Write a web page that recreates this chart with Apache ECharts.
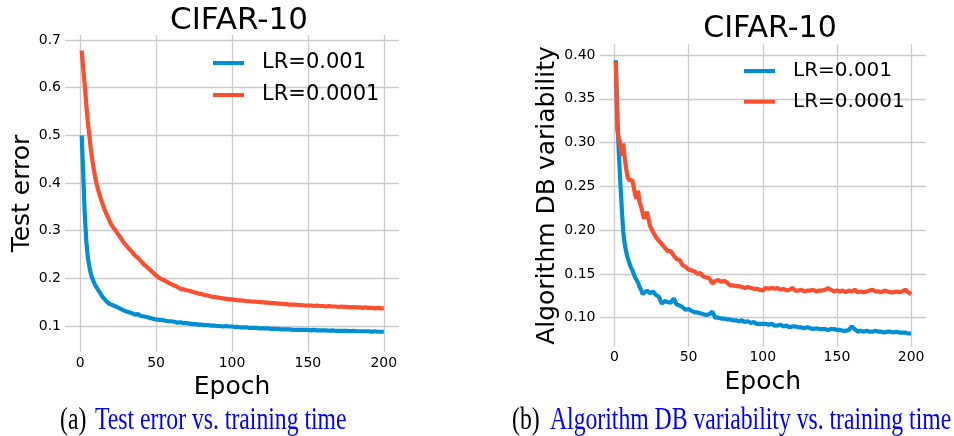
<!DOCTYPE html>
<html>
<head>
<meta charset="utf-8">
<script src="https://cdn.jsdelivr.net/npm/echarts@6/dist/echarts.min.js"></script>
<style>
html,body{margin:0;padding:0;background:#fff;}
#chart{width:954px;height:436px;}
</style>
</head>
<body>
<div id="chart"></div>
<script>
// ---- data ----
const epochs = [1,2,3,4,5,6,7,8,9,10,11,12,13,14,15,16,17,18,19,20,
  22,24,26,28,30,32,34,36,38,40,42,44,46,48,50,52,54,56,58,60,
  62,64,66,68,70,72,74,76,78,80,82,84,86,88,90,92,94,96,98,100,
  102,104,106,108,110,112,114,116,118,120,122,124,126,128,130,132,134,136,138,140,
  142,144,146,148,150,152,154,156,158,160,162,164,166,168,170,172,174,176,178,180,
  182,184,186,188,190,192,194,196,198,200];

const testErrLR1e3 = [0.500,0.420,0.335,0.280,0.245,0.225,0.210,0.200,0.192,0.185,0.180,0.175,0.170,0.165,0.160,0.157,0.153,0.150,0.147,0.145,
  0.143,0.140,0.137,0.134,0.131,0.129,0.127,0.124,0.125,0.121,0.120,0.119,0.117,0.115,0.114,0.113,0.113,0.111,0.110,0.110,
  0.109,0.107,0.108,0.106,0.106,0.105,0.104,0.104,0.103,0.103,0.102,0.102,0.101,0.101,0.100,0.100,0.099,0.100,0.099,0.099,
  0.098,0.098,0.097,0.097,0.097,0.096,0.096,0.096,0.095,0.095,0.095,0.095,0.094,0.094,0.094,0.093,0.093,0.093,0.093,0.092,
  0.092,0.092,0.092,0.092,0.092,0.091,0.092,0.091,0.091,0.091,0.091,0.090,0.091,0.090,0.090,0.090,0.090,0.090,0.089,0.090,
  0.089,0.089,0.089,0.089,0.089,0.088,0.089,0.088,0.088,0.088];

const testErrLR1e4 = [0.678,0.640,0.605,0.565,0.530,0.500,0.472,0.448,0.428,0.410,0.396,0.384,0.373,0.363,0.354,0.345,0.337,0.330,0.323,0.316,
  0.306,0.297,0.288,0.278,0.270,0.263,0.256,0.248,0.243,0.236,0.229,0.224,0.218,0.212,0.206,0.201,0.198,0.195,0.191,0.188,
  0.185,0.182,0.178,0.177,0.175,0.174,0.172,0.170,0.168,0.167,0.165,0.164,0.162,0.161,0.160,0.159,0.158,0.157,0.156,0.156,
  0.155,0.154,0.154,0.153,0.152,0.152,0.151,0.151,0.150,0.150,0.149,0.149,0.148,0.148,0.147,0.147,0.146,0.146,0.145,0.145,
  0.145,0.144,0.144,0.143,0.143,0.143,0.142,0.143,0.142,0.142,0.141,0.142,0.141,0.141,0.140,0.141,0.140,0.140,0.139,0.140,
  0.139,0.139,0.138,0.139,0.138,0.138,0.137,0.138,0.137,0.137];

const dbVarLR1e3 = [0.394,0.330,0.290,0.255,0.225,0.198,0.184,0.175,0.168,0.163,0.158,0.155,0.150,0.146,0.143,0.140,0.135,0.132,0.127,0.128,
  0.131,0.128,0.130,0.126,0.124,0.116,0.119,0.118,0.117,0.122,0.115,0.114,0.112,0.109,0.110,0.108,0.106,0.106,0.105,0.104,
  0.103,0.104,0.107,0.100,0.100,0.099,0.099,0.098,0.098,0.097,0.097,0.096,0.097,0.095,0.096,0.094,0.095,0.093,0.093,0.093,
  0.093,0.092,0.093,0.091,0.091,0.092,0.090,0.091,0.089,0.090,0.090,0.089,0.089,0.088,0.089,0.088,0.087,0.088,0.087,0.087,
  0.087,0.086,0.087,0.087,0.086,0.086,0.085,0.085,0.086,0.090,0.087,0.084,0.085,0.084,0.085,0.084,0.084,0.085,0.084,0.084,
  0.083,0.084,0.084,0.083,0.084,0.083,0.083,0.083,0.082,0.082];

const dbVarLR1e4 = [0.392,0.315,0.305,0.298,0.285,0.299,0.282,0.270,0.260,0.257,0.258,0.257,0.250,0.240,0.236,0.245,0.232,0.227,0.220,0.213,
  0.221,0.205,0.198,0.192,0.188,0.184,0.180,0.176,0.176,0.171,0.167,0.166,0.160,0.158,0.155,0.154,0.153,0.150,0.151,0.147,
  0.146,0.145,0.139,0.142,0.143,0.141,0.142,0.140,0.137,0.137,0.136,0.136,0.135,0.134,0.135,0.134,0.133,0.133,0.132,0.131,
  0.134,0.133,0.134,0.133,0.134,0.132,0.133,0.131,0.132,0.134,0.131,0.131,0.132,0.130,0.131,0.131,0.132,0.130,0.131,0.131,
  0.132,0.134,0.132,0.130,0.131,0.130,0.131,0.129,0.131,0.130,0.132,0.129,0.130,0.129,0.130,0.131,0.132,0.130,0.130,0.129,
  0.131,0.130,0.129,0.129,0.130,0.129,0.130,0.132,0.129,0.127];

const xTicks = [0, 50, 100, 150, 200];
const yTicksLeft = [0.1, 0.2, 0.3, 0.4, 0.5, 0.6, 0.7];
const yTicksRight = [0.10, 0.15, 0.20, 0.25, 0.30, 0.35, 0.40];
const seriesNames = ['LR=0.001', 'LR=0.0001'];
const chartTitles = ['CIFAR-10', 'CIFAR-10'];
const yNames = ['Test error', 'Algorithm DB variability'];
const xName = 'Epoch';
const captions = [['(a)', 'Test error vs. training time'], ['(b)', 'Algorithm DB variability vs. training time']];

// ---- styling ----
const BLUE = '#008fd5', RED = '#fc4f30', GRIDC = '#cbcbcb';
const FONT = 'DejaVu Sans';

function pairs(ys) { return epochs.map((e, i) => [e, ys[i]]); }

function xAxisCfg(gi, gap) {
  return {
    type: 'value', gridIndex: gi, min: -10, max: 210,
    name: xName, nameLocation: 'middle', nameGap: gap,
    nameTextStyle: { fontSize: 25, color: '#000', fontFamily: FONT },
    axisLine: { show: false },
    axisTick: { show: false, customValues: xTicks },
    axisLabel: { customValues: xTicks, fontSize: 14, color: '#000', fontFamily: FONT, margin: 4,
      formatter: v => String(Math.round(v)) },
    splitLine: { show: true, lineStyle: { color: GRIDC, width: 1.3 } }
  };
}
function yAxisCfg(gi, min, max, ticks, dec, name, gap) {
  return {
    type: 'value', gridIndex: gi, min: min, max: max,
    name: name, nameLocation: 'middle', nameGap: gap, nameRotate: 90,
    nameTextStyle: { fontSize: 25, color: '#000', fontFamily: FONT },
    axisLine: { show: false },
    axisTick: { show: false, customValues: ticks },
    axisLabel: { customValues: ticks, fontSize: 14, color: '#000', fontFamily: FONT, margin: 4,
      formatter: v => v.toFixed(dec) },
    splitLine: { show: true, lineStyle: { color: GRIDC, width: 1.3 } }
  };
}
function lineSeries(name, xi, data, color) {
  return {
    type: 'line', name: name, xAxisIndex: xi, yAxisIndex: xi, data: data,
    showSymbol: false, symbol: 'none', smooth: false,
    lineStyle: { color: color, width: 4.2 }, itemStyle: { color: color },
    emphasis: { disabled: true }, animation: false
  };
}

const chart = echarts.init(document.getElementById('chart'), null, { renderer: 'canvas' });
chart.setOption({
  backgroundColor: '#fff',
  animation: false,
  color: [BLUE, RED],
  title: [
    { text: chartTitles[0], left: 234, top: 0, textAlign: 'center',
      textStyle: { fontSize: 31, fontWeight: 'normal', color: '#000', fontFamily: FONT } },
    { text: chartTitles[1], left: 765, top: 9, textAlign: 'center',
      textStyle: { fontSize: 30, fontWeight: 'normal', color: '#000', fontFamily: FONT } }
  ],
  legend: [
    { data: seriesNames, orient: 'vertical', left: 213, top: 52, padding: 0, itemGap: 10,
      itemWidth: 31, itemHeight: 4, icon: 'rect',
      textStyle: { fontSize: 21, color: '#000', fontFamily: FONT, lineHeight: 22, padding: [0, 0, 0, 13] } },
    { data: seriesNames, orient: 'vertical', left: 744, top: 60, padding: 0, itemGap: 8.7,
      itemWidth: 31, itemHeight: 4, icon: 'rect',
      textStyle: { fontSize: 20, color: '#000', fontFamily: FONT, lineHeight: 22, padding: [0, 0, 0, 13] } }
  ],
  grid: [
    { left: 65, top: 35, width: 334, height: 317, containLabel: false },
    { left: 599.5, top: 44.3, width: 326.5, height: 302.4, containLabel: false }
  ],
  xAxis: [ xAxisCfg(0, 12), xAxisCfg(1, 17) ],
  yAxis: [
    yAxisCfg(0, 0.0455, 0.7105, yTicksLeft, 1, yNames[0], 29),
    yAxisCfg(1, 0.0669, 0.4122, yTicksRight, 2, yNames[1], 38)
  ],
  series: [
    lineSeries(seriesNames[0], 0, pairs(testErrLR1e3), BLUE),
    lineSeries(seriesNames[1], 0, pairs(testErrLR1e4), RED),
    lineSeries(seriesNames[0], 1, pairs(dbVarLR1e3), BLUE),
    lineSeries(seriesNames[1], 1, pairs(dbVarLR1e4), RED)
  ],
  graphic: [
    { type: 'text', x: 60, y: 421, scaleX: 0.74, silent: true,
      style: { text: captions[0][0], fontSize: 32, fontFamily: 'Liberation Serif', fill: '#000', verticalAlign: 'middle', align: 'left' } },
    { type: 'text', x: 95, y: 421, scaleX: 0.74, silent: true,
      style: { text: captions[0][1], fontSize: 32, fontFamily: 'Liberation Serif', fill: '#0000ff', verticalAlign: 'middle', align: 'left' } },
    { type: 'text', x: 512, y: 421, scaleX: 0.74, silent: true,
      style: { text: captions[1][0], fontSize: 32, fontFamily: 'Liberation Serif', fill: '#000', verticalAlign: 'middle', align: 'left' } },
    { type: 'text', x: 550, y: 421, scaleX: 0.74, silent: true,
      style: { text: captions[1][1], fontSize: 32, fontFamily: 'Liberation Serif', fill: '#0000ff', verticalAlign: 'middle', align: 'left' } }
  ]
});
</script>
</body>
</html>
